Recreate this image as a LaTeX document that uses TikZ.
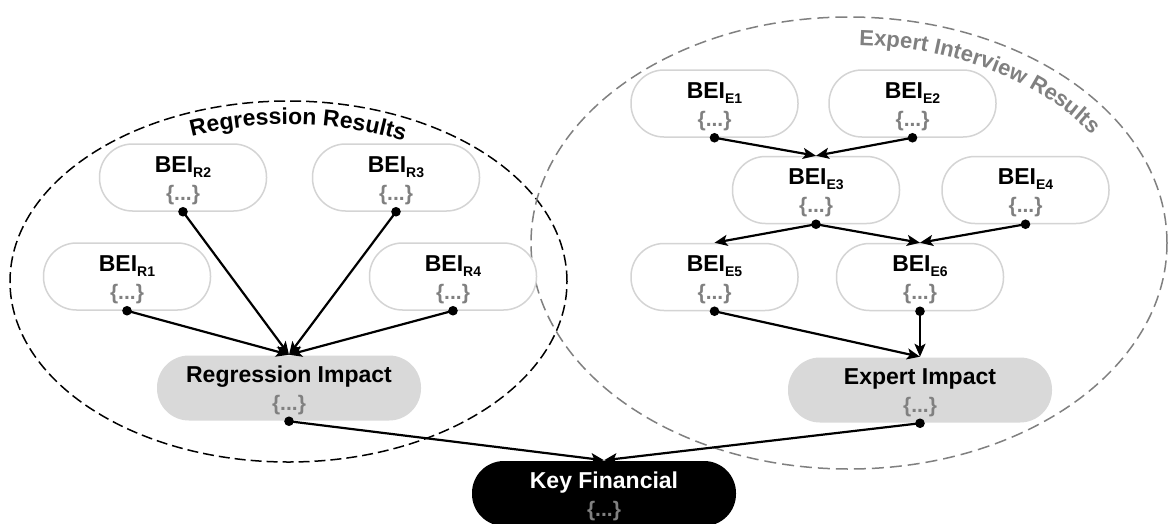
\documentclass[tikz,border=0pt]{standalone}
\usepackage{fontspec}
\setmainfont{Liberation Sans}
\usetikzlibrary{arrows.meta,decorations.text}
\definecolor{boxgray}{RGB}{212,212,212}
\definecolor{impfill}{RGB}{217,217,217}
\definecolor{bracegray}{RGB}{128,128,128}
\definecolor{ellgray}{RGB}{128,128,128}
\newcommand{\twolines}[1]{\raisebox{-3pt}[\height][\depth]{\begin{tabular}{@{}c@{}}#1\\{\color{bracegray}\fontsize{21}{28}\selectfont\{...\}}\end{tabular}}}
\newcommand{\beisub}[1]{BEI\raisebox{-5pt}{\fontsize{14}{14}\selectfont #1}}
\begin{document}
\begin{tikzpicture}[x=1pt,y=-1pt,
  beibox/.style={rectangle, rounded corners=33pt, draw=boxgray, line width=1.5pt, fill=white,
    minimum width=167pt, minimum height=67pt, inner sep=0pt,
    font=\fontsize{23}{28}\selectfont\bfseries},
  impbox/.style={beibox, draw=none, fill=impfill, minimum width=264pt, minimum height=65pt, rounded corners=32pt},
  keybox/.style={impbox, fill=black, text=white},
  conn/.style={line width=2.2pt, -{Stealth[length=13pt,width=11pt,inset=3pt]}},
  regell/.style={draw=black, line width=1.5pt, dash pattern=on 11pt off 5pt},
  expell/.style={draw=ellgray, line width=1.5pt, dash pattern=on 12pt off 6pt}
]
\useasboundingbox (0,0) rectangle (1168,523);
\fill[white] (0,0) rectangle (1168,523);

% group ellipses
\draw[regell] (288.5,281.5) ellipse[x radius=278.5pt, y radius=180.5pt];
\draw[expell] (849,243) ellipse[x radius=318pt, y radius=226pt];

% curved group titles
\path[decorate, decoration={text along path, text align=center,
  text={|\fontsize{23}{27}\selectfont\bfseries|Regression Results}}]
  (116.6,165.6) arc[start angle=132.4, end angle=42.4, x radius=255pt, y radius=157pt];
\path[decorate, decoration={text along path, text align=left,
  text={|\fontsize{22}{26}\selectfont\bfseries\color{ellgray}|Expert Interview Results}}]
  (859.1,45.1) arc[start angle=88, end angle=10, x radius=290pt, y radius=198pt];

% regression nodes
\node[beibox] (r2) at (183,177.5) {\twolines{\beisub{R2}}};
\node[beibox] (r3) at (396,177.5) {\twolines{\beisub{R3}}};
\node[beibox] (r1) at (127,276.5) {\twolines{\beisub{R1}}};
\node[beibox] (r4) at (453,276.5) {\twolines{\beisub{R4}}};
\node[impbox] (ri) at (289,388) {\twolines{Regression Impact}};

% expert nodes
\node[beibox] (e1) at (714.5,103.5) {\twolines{\beisub{E1}}};
\node[beibox] (e2) at (912.5,103.5) {\twolines{\beisub{E2}}};
\node[beibox] (e3) at (816,190) {\twolines{\beisub{E3}}};
\node[beibox] (e4) at (1025.5,190) {\twolines{\beisub{E4}}};
\node[beibox] (e5) at (714.5,277) {\twolines{\beisub{E5}}};
\node[beibox] (e6) at (920,277) {\twolines{\beisub{E6}}};
\node[impbox] (ei) at (920,390) {\twolines{Expert Impact}};

% key financial
\node[keybox] (kf) at (604,493.5) {\twolines{Key Financial}};

% connectors
\foreach \s in {r1,r2,r3,r4} \draw[conn] (\s.south) -- (ri.north);
\draw[conn] (e1.south) -- (e3.north);
\draw[conn] (e2.south) -- (e3.north);
\draw[conn] (e3.south) -- (e5.north);
\draw[conn] (e3.south) -- (e6.north);
\draw[conn] (e4.south) -- (e6.north);
\draw[conn] (e5.south) -- (ei.north);
\draw[conn] (e6.south) -- (ei.north);
\draw[conn] (ri.south) -- (kf.north);
\draw[conn] (ei.south) -- (kf.north);

% source dots
\foreach \s in {r1,r2,r3,r4,ri,e1,e2,e3,e4,e5,e6,ei} \fill (\s.south) circle[radius=4.8pt];
\end{tikzpicture}
\end{document}
